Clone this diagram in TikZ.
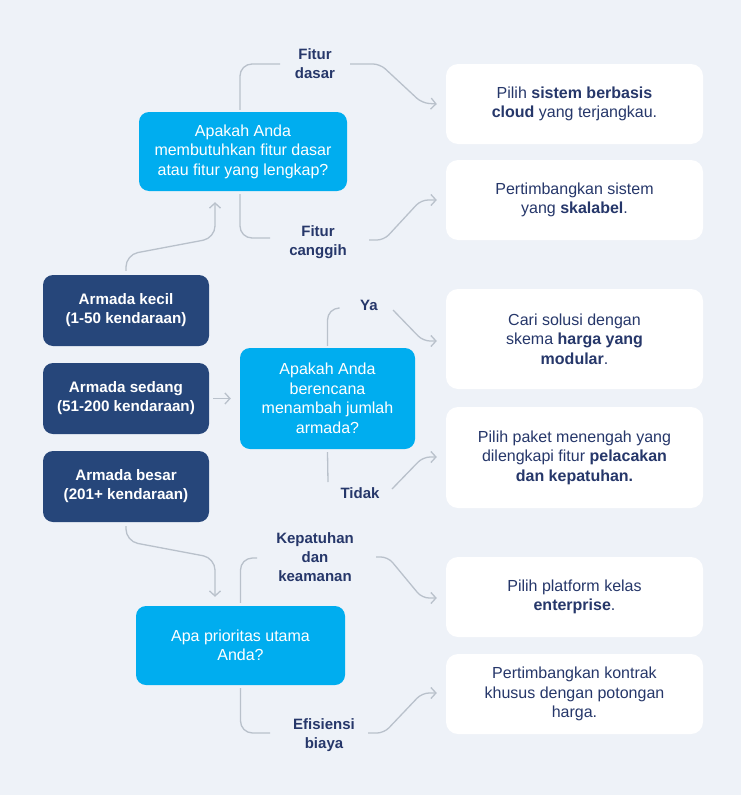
\documentclass[tikz,border=0pt]{standalone}
\usepackage{fontspec}
\setmainfont{Liberation Sans}
\usetikzlibrary{arrows.meta}
\definecolor{bg}{HTML}{EEF2F8}
\definecolor{cyanq}{HTML}{00ADEF}
\definecolor{navybox}{HTML}{26467A}
\definecolor{navytxt}{HTML}{26376A}
\definecolor{connc}{HTML}{B9C1CB}
\begin{document}
\begin{tikzpicture}[x=1pt,y=-1pt,
  qbox/.style={fill=cyanq, rounded corners=10pt, text=white, align=center,
    font=\fontsize{16}{19.5}\selectfont, inner sep=0pt},
  fleet/.style={fill=navybox, rounded corners=10pt, text=white, align=center,
    font=\bfseries\fontsize{15.2}{19}\selectfont, minimum width=166pt, minimum height=71pt, inner sep=0pt},
  ans/.style={fill=white, rounded corners=12pt, text=navytxt, align=center,
    font=\fontsize{16}{19.5}\selectfont, minimum width=257pt, inner sep=0pt},
  lbl/.style={text=navytxt, font=\bfseries\fontsize{15}{19}\selectfont, align=center, inner sep=0pt},
  link/.style={draw=connc, line width=1.3pt, rounded corners=12pt},
  arr/.style={link, -{Straight Barb[length=5pt,width=11pt]}},
  sarr/.style={arr, rounded corners=7pt}
]
\fill[bg] (0,0) rectangle (741,795);
\useasboundingbox (0,0) rectangle (741,795);

% question boxes
\node[qbox, minimum width=208pt, minimum height=79pt] (q1) at (243,151.5)
  {Apakah Anda\\membutuhkan fitur dasar\\atau fitur yang lengkap?};
\node[qbox, minimum width=175pt, minimum height=101pt] (q2) at (327.5,398.5)
  {Apakah Anda\\berencana\\menambah jumlah\\armada?};
\node[qbox, minimum width=209pt, minimum height=79pt] (q3) at (240.5,645.5)
  {Apa prioritas utama\\Anda?};

% fleet boxes
\node[fleet] (small) at (126,310.5) {Armada kecil\\(1-50 kendaraan)};
\node[fleet] (medium) at (126,398.5) {Armada sedang\\(51-200 kendaraan)};
\node[fleet] (large) at (126,486.5) {Armada besar\\(201+ kendaraan)};

% answer boxes
\node[ans, minimum height=80pt] (a1) at (574.5,104)
  {Pilih \textbf{sistem berbasis}\\\textbf{cloud} yang terjangkau.};
\node[ans, minimum height=80pt] (a2) at (574.5,200)
  {Pertimbangkan sistem\\yang \textbf{skalabel}.};
\node[ans, minimum height=100pt] (a3) at (574.5,339)
  {Cari solusi dengan\\skema \textbf{harga yang}\\\textbf{modular}.};
\node[ans, minimum height=101pt] (a4) at (574.5,457.5)
  {Pilih paket menengah yang\\dilengkapi fitur \textbf{pelacakan}\\\textbf{dan kepatuhan.}};
\node[ans, minimum height=80pt] (a5) at (574.5,597)
  {Pilih platform kelas\\\textbf{enterprise}.};
\node[ans, minimum height=80pt] (a6) at (574.5,694)
  {Pertimbangkan kontrak\\khusus dengan potongan\\harga.};

% labels
\node[lbl] (lfd) at (315,64) {Fitur\\dasar};
\node[lbl] (lfc) at (318,242) {Fitur\\canggih};
\node[lbl] (lya) at (369,305) {Ya};
\node[lbl] (ltd) at (360,493) {Tidak};
\node[lbl] (lkk) at (315,557) {Kepatuhan\\dan\\keamanan};
\node[lbl] (leb) at (324,735) {Efisiensi\\biaya};

% label-side ends of connectors
\coordinate (fdL) at (280,64);  \coordinate (fdR) at (350,64);
\coordinate (fcL) at (270,238); \coordinate (fcR) at (369,240);
\coordinate (yaL) at (338,308); \coordinate (yaR) at (393,310);
\coordinate (tdL) at (328,482); \coordinate (tdR) at (392,489);
\coordinate (kkL) at (257,558); \coordinate (kkR) at (376,557);
\coordinate (ebL) at (270,733); \coordinate (ebR) at (368,733);

% fleet -> questions
\draw[arr] ([yshift=4pt]small.north) -- ++(0,-16) -- (215,238) -- ([yshift=-11pt]q1.south -| 215,0);
\draw[arr] ([xshift=4pt]medium.east) -- ([xshift=-9pt]q2.west);
\draw[arr] ([yshift=-4pt]large.south) -- ++(0,15) -- (215,558) -- ([yshift=9pt]q3.north -| 215,0);

% q1 branches
\draw[link] ([xshift=-3pt,yshift=2pt]q1.north) |- (fdL);
\draw[sarr] (fdR) -- (380,64) -- (422,103) -- ([xshift=-9pt]a1.west);
\draw[link] ([xshift=-3pt,yshift=-3pt]q1.south) |- (fcL);
\draw[sarr] (fcR) -- (384,240) -- (421,200) -- ([xshift=-9pt]a2.west);

% q2 branches
\draw[link] ([yshift=2pt]q2.north) |- (yaL);
\draw[sarr] (yaR) -- (423,341) -- ([xshift=-9pt]a3.west |- 0,341);
\draw[link] ([yshift=-3pt]q2.south) -- (tdL);
\draw[sarr] (tdR) -- (423,457) -- ([xshift=-9pt]a4.west |- 0,457);

% q3 branches
\draw[link] ([yshift=3pt]q3.north) |- (kkL);
\draw[sarr] (kkR) -- (388,557) -- (422,598) -- ([xshift=-9pt]a5.west |- 0,598);
\draw[link] ([yshift=-3pt]q3.south) |- (ebL);
\draw[sarr] (ebR) -- (384,733) -- (422,693) -- ([xshift=-9pt]a6.west |- 0,693);
\end{tikzpicture}
\end{document}
